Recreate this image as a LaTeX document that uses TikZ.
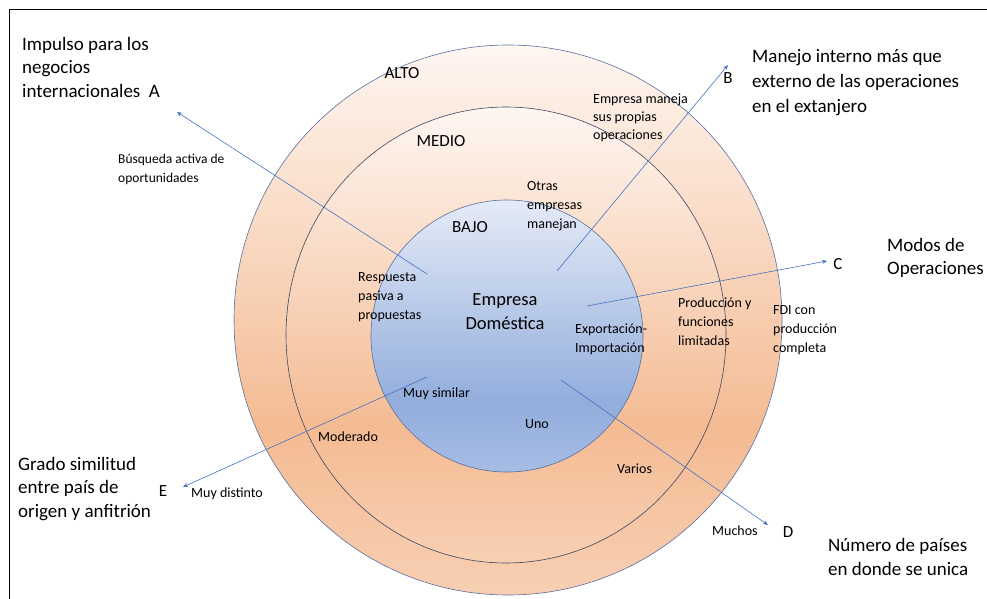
\documentclass[tikz,border=0pt]{standalone}
\usepackage{fontspec}
\setmainfont{Carlito}
\usetikzlibrary{arrows.meta}
\definecolor{orTop}{HTML}{FEF6F1}
\definecolor{orMid}{HTML}{F4BB93}
\definecolor{orBot}{HTML}{F8CFB3}
\definecolor{blTop}{HTML}{E4EBF7}
\definecolor{blMid}{HTML}{93ADDC}
\definecolor{blBot}{HTML}{A6BDE5}
\definecolor{arrowblue}{HTML}{4472C4}
\definecolor{ringline}{HTML}{5A6E9C}
\definecolor{midline}{HTML}{3E4762}
\pgfdeclareverticalshading{ringshade}{100bp}{color(0bp)=(orBot); color(25bp)=(orBot); color(40bp)=(orMid); color(75bp)=(orTop); color(100bp)=(orTop)}
\pgfdeclareverticalshading{coreshade}{100bp}{color(0bp)=(blBot); color(25bp)=(blBot); color(38bp)=(blMid); color(75bp)=(blTop); color(100bp)=(blTop)}
\tikzset{
  title/.style={font=\fontsize{19}{23.5}\selectfont, inner sep=0pt, align=left, anchor=west},
  letter/.style={font=\fontsize{17}{20}\selectfont, inner sep=0pt},
  level/.style={font=\fontsize{17}{20}\selectfont, inner sep=0pt},
  lab/.style={font=\fontsize{14}{19}\selectfont, inner sep=0pt, align=left, anchor=west},
  small/.style={font=\fontsize{14}{18}\selectfont, inner sep=0pt, align=left, anchor=west},
  axis/.style={draw=arrowblue, line width=0.6pt, -{Stealth[length=5pt,width=4pt]}}
}
\begin{document}
\begin{tikzpicture}[x=1pt,y=-1pt]
\useasboundingbox (0,0) rectangle (987,599);
\fill[white] (0,0) rectangle (987,599);
% frame (right and bottom edges lie outside the picture)
\draw[line width=0.8pt] (9,600) -- (9,9) -- (988,9);
% rings
\shade[shading=ringshade, draw=ringline, line width=0.6pt] (508,320) ellipse [x radius=274pt, y radius=275pt];
\shade[shading=ringshade, draw=midline, line width=0.6pt] (506,335) ellipse [x radius=220pt, y radius=228pt];
\shade[shading=coreshade, draw=ringline, line width=0.6pt] (507,336) ellipse [x radius=136pt, y radius=136pt];
% axis coordinates
\coordinate (a0) at (427,274); \coordinate (a1) at (177,112);
\coordinate (b0) at (557,271); \coordinate (b1) at (728,65);
\coordinate (c0) at (587,306); \coordinate (c1) at (827,261);
\coordinate (d0) at (561,380); \coordinate (d1) at (768,525);
\coordinate (e0) at (427,377); \coordinate (e1) at (183,487);
\draw[axis] (a0) -- (a1);
\draw[axis] (b0) -- (b1);
\draw[axis] (c0) -- (c1);
\draw[axis] (d0) -- (d1);
\draw[axis] (e0) -- (e1);
% titles
\node[title] (tA) at (22,67) {Impulso para los\\negocios\\internacionales\ \ A};
\node[title, font=\fontsize{19}{25}\selectfont] (tB) at (752,83) {Manejo interno más que\\externo de las operaciones\\en el extanjero};
\node[title] (tC) at (887,258) {Modos de\\Operaciones};
\node[title] (tD) at (828,557) {Número de países\\en donde se unica};
\node[title] (tE) at (18,489) {Grado similitud\\entre país de\\origen y anfitrión};
% letters
\node[letter] (lB) at (728,78) {B};
\node[letter] (lC) at (838,264) {C};
\node[letter] (lD) at (788,532) {D};
\node[letter] (lE) at (163,491) {E};
% levels
\node[level] (alto) at (402,73) {ALTO};
\node[level] (medio) at (441,141) {MEDIO};
\node[level] (bajo) at (470,227) {BAJO};
% centre
\node[font=\fontsize{18.5}{24}\selectfont, inner sep=0pt, align=center] (core) at (505,312) {Empresa\\Doméstica};
% labels
\node[lab, font=\fontsize{13.5}{19}\selectfont] (busq) at (118,169) {Búsqueda activa de\\oportunidades};
\node[lab] (resp) at (358,297) {Respuesta\\pasiva a\\propuestas};
\node[small] (empm) at (593,118) {Empresa maneja\\sus propias\\operaciones};
\node[lab] (otras) at (527,206) {Otras\\empresas\\manejan};
\node[lab] (prod) at (678,322) {Producción y\\funciones\\limitadas};
\node[lab] (fdi) at (773,330) {FDI con\\producción\\completa};
\node[lab] (expo) at (575,339) {Exportación-\\Importación};
\node[small] (simil) at (403,394) {Muy similar};
\node[small, anchor=center] (uno) at (537,424) {Uno};
\node[small] (mod) at (318,437) {Moderado};
\node[small] (var) at (617,469) {Varios};
\node[small] (dist) at (191,494) {Muy distinto};
\node[small] (much) at (712,531) {Muchos};
\end{tikzpicture}
\end{document}
